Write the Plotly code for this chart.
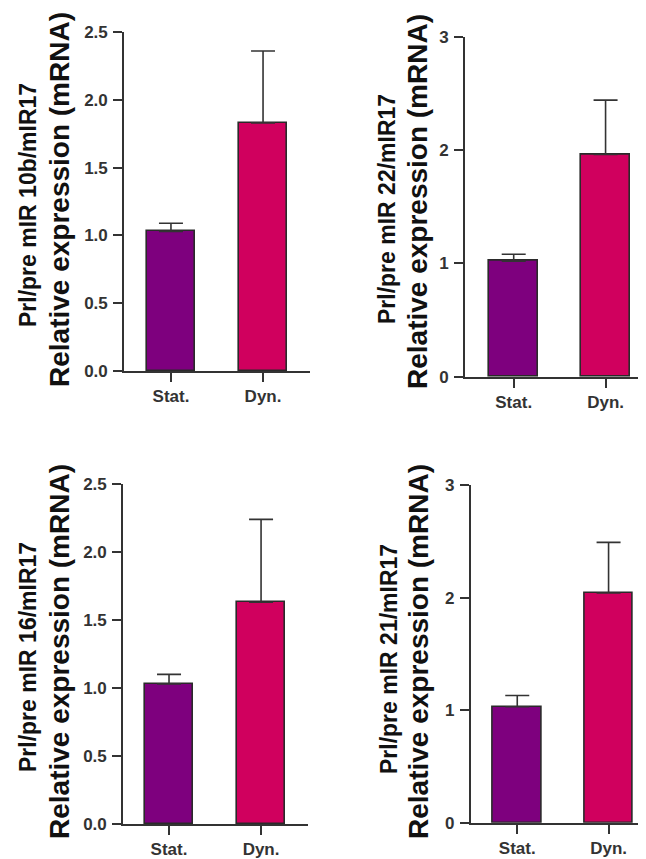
import plotly.graph_objects as go

# page body has an 8px margin, so the figure is 8px smaller on each side of the window
OFF = 8
W, H = 646 - OFF, 859 - OFF

categories = ["Stat.", "Dyn."]

mir10b_mean = [1.03, 1.83]
mir10b_err = [0.06, 0.53]

mir22_mean = [1.02, 1.96]
mir22_err = [0.06, 0.48]

mir16_mean = [1.03, 1.63]
mir16_err = [0.07, 0.61]

mir21_mean = [1.03, 2.04]
mir21_err = [0.10, 0.45]

panel_labels = ["Prl/pre mIR 10b/mIR17", "Prl/pre mIR 22/mIR17",
                "Prl/pre mIR 16/mIR17", "Prl/pre mIR 21/mIR17"]
common_title = "Relative expression (mRNA)"

bar_colors = ["#7e007e", "#d0005e"]
AX = "#333333"
FONT = "Liberation Sans, Arial, sans-serif"


def px_x(v):
    return (v - OFF) / W


def px_y(v):
    return 1 - (v - OFF) / H


# reference-pixel geometry: (x_left, x_right, y_top, y_bottom)
panels = [
    dict(mean=mir10b_mean, err=mir10b_err, box=(124, 310, 32, 371), xr=[-0.51, 1.51],
         yr=[0, 2.5], dtick=0.5, fmt=".1f", t1=(28, 205), t2=(60, 200)),
    dict(mean=mir22_mean, err=mir22_err, box=(465, 646, 36.7, 376.7), xr=[-0.53, 1.44],
         yr=[0, 3], dtick=1, fmt="d", t1=(387, 209), t2=(417, 202)),
    dict(mean=mir16_mean, err=mir16_err, box=(123, 308, 484, 824), xr=[-0.5, 1.51],
         yr=[0, 2.5], dtick=0.5, fmt=".1f", t1=(28, 657), t2=(59, 652)),
    dict(mean=mir21_mean, err=mir21_err, box=(470.7, 646, 485, 822.7), xr=[-0.51, 1.41],
         yr=[0, 3], dtick=1, fmt="d", t1=(389, 659), t2=(418, 652)),
]

fig = go.Figure()
annotations = []
for i, p in enumerate(panels):
    n = "" if i == 0 else str(i + 1)
    xl, xr_, yt, yb = p["box"]
    fig.add_trace(go.Bar(
        x=categories, y=p["mean"],
        xaxis="x" + n, yaxis="y" + n,
        width=0.53,
        marker=dict(color=bar_colors, line=dict(color="#2a2a2a", width=1.6)),
        error_y=dict(type="data", symmetric=False, array=p["err"],
                     arrayminus=[0, 0], color=AX, thickness=1.6, width=12),
        showlegend=False,
    ))
    axcommon = dict(showline=True, linecolor=AX, linewidth=1.6, ticks="outside",
                    ticklen=9, tickwidth=1.6, tickcolor=AX, showgrid=False, zeroline=False,
                    automargin=False,
                    tickfont=dict(family=FONT, size=17, color=AX, weight="bold"))
    fig.update_layout(**{
        "xaxis" + n: dict(domain=[max(0, px_x(xl)), min(1, px_x(xr_))], anchor="y" + n,
                          type="category", range=p["xr"], **axcommon),
        "yaxis" + n: dict(domain=[px_y(yb), px_y(yt)], anchor="x" + n,
                          range=p["yr"], dtick=p["dtick"], tickformat=p["fmt"],
                          ticklabelstandoff=2, **axcommon),
    })
    annotations.append(dict(x=px_x(p["t1"][0]), y=px_y(p["t1"][1]), xref="paper", yref="paper",
                            text=panel_labels[i], textangle=-90, showarrow=False,
                            xanchor="center", yanchor="middle",
                            font=dict(family=FONT, size=23, color="#111111", weight="bold")))
    annotations.append(dict(x=px_x(p["t2"][0]), y=px_y(p["t2"][1]), xref="paper", yref="paper",
                            text=common_title, textangle=-90, showarrow=False,
                            xanchor="center", yanchor="middle",
                            font=dict(family=FONT, size=28, color="#111111", weight="bold")))

fig.update_layout(width=W, height=H, margin=dict(l=0, r=0, t=0, b=0),
                  paper_bgcolor="white", plot_bgcolor="white",
                  annotations=annotations, bargap=0)

fig.write_html("out.html")
